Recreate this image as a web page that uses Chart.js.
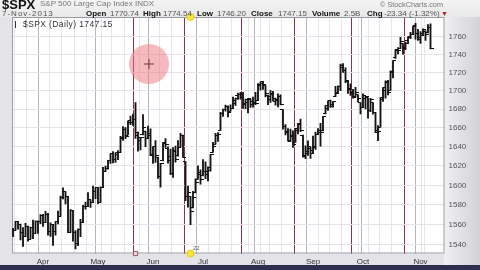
<!DOCTYPE html>
<html><head><meta charset="utf-8">
<script src="https://cdn.jsdelivr.net/npm/chart.js@4/dist/chart.umd.min.js"></script>
<style>
html,body{margin:0;padding:0;width:480px;height:270px;overflow:hidden;background:#e4e4e8;font-family:"Liberation Sans",Arial,sans-serif;}
#wrap{position:relative;width:480px;height:270px;}
#hdr{position:absolute;left:0;top:0;width:480px;height:17px;background:linear-gradient(#f4f4f4,#e8e8ea);}
#rside{position:absolute;left:444px;top:17px;width:36px;height:249px;background:linear-gradient(to right,#f0f0f2,#d2d2d8);}
#bstrip{position:absolute;left:0;top:265px;width:480px;height:5px;background:#2f2f4c;}
canvas{position:absolute;left:0;top:0;}
.t{position:absolute;white-space:nowrap;line-height:1;}
.b{font-weight:bold;color:#111;}
.g{color:#555;}
</style></head>
<body><div id="wrap">
<div id="hdr"></div><div id="rside"></div><div id="bstrip"></div>
<canvas id="c" width="480" height="270"></canvas>
<div class="t b" style="left:2px;top:-2px;font-size:13px;">$SPX</div>
<div class="t g" style="left:40px;top:0px;font-size:8px;color:#777;">S&amp;P 500 Large Cap Index INDX</div>
<div class="t g" style="left:380px;top:1px;font-size:7.3px;color:#777;">© StockCharts.com</div>
<div class="t g" style="left:2px;top:10px;font-size:8px;letter-spacing:1px;">7-Nov-2013</div>
<div class="t b" style="left:86px;top:10px;font-size:8px;">Open</div>
<div class="t g" style="left:110px;top:10px;font-size:8px;">1770.74</div>
<div class="t b" style="left:143px;top:10px;font-size:8px;">High</div>
<div class="t g" style="left:163px;top:10px;font-size:8px;">1774.54</div>
<div class="t b" style="left:197px;top:10px;font-size:8px;">Low</div>
<div class="t g" style="left:217px;top:10px;font-size:8px;">1746.20</div>
<div class="t b" style="left:251px;top:10px;font-size:8px;">Close</div>
<div class="t g" style="left:278px;top:10px;font-size:8px;">1747.15</div>
<div class="t b" style="left:312px;top:10px;font-size:8px;">Volume</div>
<div class="t g" style="left:344px;top:10px;font-size:8px;">2.5B</div>
<div class="t b" style="left:367px;top:10px;font-size:8px;">Chg</div>
<div class="t g" style="left:384px;top:10px;font-size:8px;">-23.34 (-1.32%)</div>
<div class="t" style="left:441px;top:10px;font-size:7px;color:#b02020;">▼</div>
<div class="t g" style="left:15px;top:20px;font-size:8.5px;color:#333;letter-spacing:0.4px;"><span style="display:inline-block;width:4px;height:7px;border-left:1px solid #333;margin-right:3px;vertical-align:-1px;"></span>$SPX (Daily) 1747.15</div>
<div class="t" style="left:193px;top:245px;font-size:6px;color:#666;">22</div>
</div>
<script>
// ---- categories: trading days (NYSE calendar, 2013) ----
const firstDay = '2013-03-13', lastDay = '2013-11-07';
const holidays = ['2013-03-29','2013-05-27','2013-07-04','2013-09-02'];
const monthNames = ['Jan','Feb','Mar','Apr','May','Jun','Jul','Aug','Sep','Oct','Nov','Dec'];
const dates = [];
for (let d = new Date(firstDay+'T00:00:00Z'); d <= new Date(lastDay+'T00:00:00Z'); d.setUTCDate(d.getUTCDate()+1)) {
  const s = d.toISOString().slice(0,10), w = d.getUTCDay();
  if (w !== 0 && w !== 6 && !holidays.includes(s)) dates.push(s);
}
// ---- OHLC series ----
const open = [
1552.5,1554.5,1563.2,1560.7,1552.1,1548.3,1558.7,1545.9,1556.9,1551.7,1563.8,1562.9,
1569.2,1562.2,1570.3,1553.7,1560.0,1553.3,1563.1,1568.6,1587.7,1593.3,1588.8,1552.4,1574.6,1552.0,1541.6,1555.3,1562.5,1578.8,1578.8,1585.2,1582.3,1593.6,
1597.6,1582.8,1597.6,1614.4,1617.5,1626.0,1632.7,1626.7,1632.1,1633.8,1649.1,1658.1,1652.5,1665.7,1666.2,1669.4,1651.6,1646.7,1652.6,1656.6,1649.1,1652.1,
1631.7,1640.7,1629.1,1609.0,1625.3,1644.7,1638.6,1629.9,1612.2,1635.5,1630.6,1639.8,1651.8,1624.6,1588.6,1588.8,1577.5,1592.3,1606.4,1611.1,
1609.8,1614.3,1611.5,1618.7,1634.2,1642.9,1652.5,1657.4,1675.3,1679.6,1682.7,1677.9,1681.1,1686.2,1694.4,1696.1,1696.1,1685.2,1687.3,1690.3,1687.9,1687.8,
1689.4,1706.1,1708.0,1705.8,1695.3,1693.4,1696.1,1688.4,1690.7,1693.9,1679.6,1661.2,1655.3,1646.8,1650.7,1645.0,1659.9,1664.3,1652.5,1630.3,1633.5,1640.0,
1636.0,1640.7,1653.3,1657.4,1656.9,1675.1,1681.0,1689.2,1685.0,1694.1,1697.7,1705.0,1727.3,1722.4,1711.4,1702.6,1698.0,1694.0,1695.5,1687.3,
1682.4,1691.9,1692.4,1678.8,1687.2,1676.2,1657.0,1660.9,1691.1,1699.9,1709.2,1700.5,1720.2,1736.7,1745.2,1746.5,1752.3,1747.5,1756.0,1759.4,1762.9,1772.3,1763.2,
1758.7,1763.4,1765.7,1765.0,1770.74];
const high = [
1556.4,1563.3,1563.6,1560.7,1557.3,1561.6,1558.7,1557.7,1564.9,1563.9,1564.1,1570.3,
1570.6,1573.7,1571.5,1562.0,1560.0,1563.1,1573.9,1589.1,1597.4,1593.3,1588.8,1575.4,1574.6,1554.4,1555.9,1565.6,1579.6,1583.0,1592.6,1585.2,1599.2,1597.6,
1597.6,1598.6,1618.5,1619.8,1626.0,1632.8,1635.0,1633.7,1636.0,1651.1,1661.5,1660.5,1667.5,1672.8,1674.9,1687.2,1655.5,1649.8,1674.2,1656.6,1661.9,1659.0,
1640.4,1646.5,1629.3,1622.7,1644.4,1648.7,1640.1,1637.7,1639.3,1640.8,1646.5,1654.2,1652.5,1624.6,1599.2,1588.8,1593.8,1606.8,1620.1,1615.9,
1626.6,1624.3,1619.0,1632.1,1644.7,1654.2,1655.0,1676.6,1680.2,1684.5,1683.7,1684.8,1693.1,1692.1,1697.6,1698.4,1698.4,1690.9,1691.9,1690.9,1693.2,1698.4,
1707.9,1709.7,1709.2,1705.8,1695.3,1700.2,1699.4,1692.0,1696.8,1695.5,1679.6,1663.6,1659.2,1658.9,1657.0,1659.6,1664.9,1669.5,1652.5,1641.2,1646.4,1640.1,
1651.4,1655.7,1659.2,1664.8,1672.4,1684.1,1689.1,1690.0,1688.7,1705.0,1705.5,1729.4,1729.9,1725.2,1711.4,1707.6,1701.7,1703.9,1695.5,1687.3,
1696.6,1693.9,1692.4,1691.9,1687.2,1676.8,1662.5,1692.6,1703.4,1711.0,1711.6,1721.8,1733.4,1745.3,1747.8,1759.3,1752.3,1753.9,1759.8,1765.0,1772.1,1775.2,1768.5,
1765.7,1768.8,1767.0,1773.7,1774.54];
const low = [
1548.3,1554.5,1555.7,1545.1,1538.6,1548.3,1543.8,1545.9,1546.2,1551.7,1551.5,1561.1,
1558.5,1562.2,1549.8,1548.5,1539.5,1549.6,1560.9,1568.6,1586.2,1581.0,1552.3,1552.4,1543.7,1536.0,1539.4,1548.2,1562.5,1575.8,1578.8,1577.6,1582.3,1586.5,
1581.3,1582.8,1597.6,1614.2,1616.6,1622.7,1623.1,1623.7,1626.7,1633.8,1646.7,1648.6,1652.5,1663.5,1662.7,1648.9,1635.5,1636.9,1652.6,1640.1,1648.6,1630.7,
1622.7,1623.6,1607.1,1598.2,1625.3,1639.3,1622.9,1610.9,1608.1,1624.0,1630.3,1639.8,1628.9,1584.3,1577.7,1560.3,1577.1,1592.3,1606.4,1601.1,
1609.8,1606.8,1604.6,1614.7,1634.2,1642.9,1645.8,1657.4,1672.3,1677.9,1671.8,1677.9,1681.1,1684.1,1690.7,1691.0,1680.9,1680.7,1676.0,1681.9,1682.4,1684.9,
1689.4,1700.7,1701.6,1693.3,1684.9,1687.4,1689.0,1684.5,1682.6,1684.8,1658.6,1652.6,1646.1,1646.1,1639.4,1645.0,1653.7,1656.0,1629.1,1627.5,1630.9,1628.0,
1633.4,1637.4,1653.1,1640.6,1656.9,1675.1,1678.7,1682.0,1682.2,1693.7,1697.7,1700.2,1720.2,1708.9,1697.1,1694.9,1691.9,1693.1,1688.0,1675.0,
1682.1,1680.3,1670.4,1677.3,1674.7,1655.0,1646.5,1660.9,1688.5,1692.1,1695.5,1700.5,1714.1,1735.7,1740.6,1746.5,1740.5,1745.5,1752.5,1757.7,1762.9,1757.2,1755.7,
1752.5,1761.6,1755.8,1764.4,1746.2];
const close = [
1554.5,1563.2,1560.7,1552.1,1548.3,1558.7,1545.8,1556.9,1551.7,1563.8,1562.9,1569.2,
1562.2,1570.3,1553.7,1560.0,1553.3,1563.1,1568.6,1587.7,1593.4,1588.9,1552.4,1574.6,1552.0,1541.6,1555.3,1562.5,1578.8,1578.8,1585.2,1582.2,1593.6,1597.6,
1582.7,1597.6,1614.4,1617.5,1626.0,1632.7,1626.7,1633.7,1633.8,1650.3,1658.8,1650.5,1667.5,1666.3,1669.2,1655.4,1650.3,1649.6,1660.1,1648.4,1654.4,1630.7,
1640.4,1631.4,1608.9,1622.6,1643.4,1642.8,1626.1,1612.5,1636.4,1626.7,1639.0,1651.8,1628.9,1588.2,1592.4,1573.1,1588.0,1603.3,1613.2,1606.3,
1614.1,1614.1,1615.4,1631.9,1640.5,1652.3,1652.6,1675.0,1680.2,1682.5,1676.3,1680.9,1689.4,1692.1,1695.5,1692.4,1685.9,1690.3,1691.7,1685.3,1686.0,1685.7,
1706.9,1709.7,1707.1,1697.4,1690.9,1697.5,1691.4,1689.5,1694.2,1685.4,1661.3,1655.8,1646.1,1652.4,1642.8,1657.0,1663.5,1656.8,1630.5,1635.0,1638.2,1633.0,
1639.8,1653.1,1655.1,1655.2,1671.7,1684.0,1689.1,1683.4,1688.0,1697.6,1704.8,1725.5,1722.3,1709.9,1701.8,1697.4,1692.8,1698.7,1691.8,1681.6,
1695.0,1693.9,1678.7,1690.5,1676.1,1655.5,1656.4,1692.6,1703.2,1710.1,1698.1,1721.5,1733.2,1744.5,1744.7,1754.7,1746.4,1752.1,1759.8,1762.1,1772.0,1763.3,1756.5,
1761.6,1767.9,1763.0,1770.5,1747.15];
// ---- axis tick values ----
const yTicks = [1540,1560,1580,1600,1620,1640,1660,1680,1700,1720,1740,1760];
// ---- annotations: 22-bar cycle markers (bar indices), cursor highlight ----
const cycleMarkers = [49,71,93,115,137,159];
const cursorPoint = [{x:54.4, y:1729.5}];

// derived: month starts and week starts
const monthStarts = [], weekStarts = [], monthLabel = {};
dates.forEach((s,i)=>{
  if(i===0) return;
  const d=new Date(s+'T00:00:00Z'), p=new Date(dates[i-1]+'T00:00:00Z');
  if(d.getUTCMonth()!==p.getUTCMonth()){monthStarts.push(i); monthLabel[i]=monthNames[d.getUTCMonth()];}
  else if(d.getUTCDay()<p.getUTCDay()) weekStarts.push(i);
});
const xTickVals = Array.from(new Set([...weekStarts,...monthStarts,...cycleMarkers])).sort((a,b)=>a-b);

function tickCanvas(side){
  const c=document.createElement('canvas'); c.width=6; c.height=1;
  const g=c.getContext('2d'); g.fillStyle='#111';
  if(side==='L') g.fillRect(0,0,3,1); else g.fillRect(3,0,3,1);
  return c;
}
const leftTick=tickCanvas('L'), rightTick=tickCanvas('R');

const Y_MIN=1531.6, Y_MAX=1782.4;

const plotFrame={id:'plotFrame',
  beforeDraw(ch){const a=ch.chartArea,g=ch.ctx;g.save();g.fillStyle='#ffffff';g.fillRect(a.left,a.top,a.right-a.left,a.bottom-a.top);g.restore();},
  beforeDatasetsDraw(ch){const a=ch.chartArea,g=ch.ctx;g.save();g.strokeStyle='#9a9aa2';g.lineWidth=1;g.strokeRect(a.left+0.5,a.top+0.5,a.right-a.left-1,a.bottom-a.top-1);g.restore();}
};

new Chart(document.getElementById('c'),{
  type:'bar',
  data:{datasets:[
    {type:'scatter',order:0,data:cursorPoint,pointStyle:'cross',pointRadius:5,borderColor:'#6a3a40',borderWidth:1,backgroundColor:'#6a3a40'},
    {type:'scatter',order:1,data:cursorPoint,pointRadius:20,backgroundColor:'rgba(238,118,125,0.5)',borderWidth:0},
    {type:'scatter',order:2,clip:8,data:[{x:cycleMarkers[0],y:Y_MIN}],pointStyle:'rect',pointRadius:3,backgroundColor:'rgba(235,215,220,1)',borderColor:'#8a5a64',borderWidth:1},
    {type:'scatter',order:2,clip:8,data:[{x:cycleMarkers[1],y:Y_MAX},{x:cycleMarkers[1],y:Y_MIN}],pointRadius:3.5,backgroundColor:'#f3e43a',borderColor:'#e8d020',borderWidth:1},
    {type:'scatter',order:3,data:open.map((v,i)=>({x:i,y:v})),pointStyle:leftTick,pointRadius:3},
    {type:'scatter',order:3,data:close.map((v,i)=>({x:i,y:v})),pointStyle:rightTick,pointRadius:3},
    {type:'bar',order:4,data:low.map((v,i)=>({x:i,y:[v,high[i]]})),backgroundColor:'#151515',barThickness:1.2,grouped:false,borderWidth:0}
  ]},
  options:{
    responsive:false,animation:false,events:[],devicePixelRatio:1,
    layout:{autoPadding:false,padding:{left:12,top:17,right:0,bottom:4}},
    plugins:{legend:{display:false},tooltip:{enabled:false}},
    scales:{
      x:{type:'linear',min:-0.4,max:172.6,offset:false,
        afterBuildTicks:s=>{s.ticks=xTickVals.map(v=>({value:v}));},
        afterFit:s=>{s.height=12.5;s.paddingLeft=0;s.paddingRight=0;},
        grid:{drawTicks:false,lineWidth:1,color:c=>{const v=c.tick&&c.tick.value;if(cycleMarkers.includes(v))return '#8e3248';if(monthStarts.includes(v))return '#b8b4be';return '#e8e4ec';}},
        border:{display:false},
        ticks:{autoSkip:false,maxRotation:0,padding:3.5,color:'#333',font:{family:'Liberation Sans',size:8},callback:v=>monthLabel[v]||''}
      },
      y:{type:'logarithmic',position:'right',min:Y_MIN,max:Y_MAX,
        afterBuildTicks:s=>{s.ticks=yTicks.map(v=>({value:v}));},
        afterFit:s=>{s.width=35.5;s.paddingTop=0;s.paddingBottom=0;},
        grid:{drawTicks:false,color:'#e6e2ea'},
        border:{display:false},
        ticks:{padding:4,color:'#555',font:{family:'Liberation Sans',size:8},callback:v=>String(v)}
      }
    }
  },
  plugins:[plotFrame]
});
</script>
</body></html>
